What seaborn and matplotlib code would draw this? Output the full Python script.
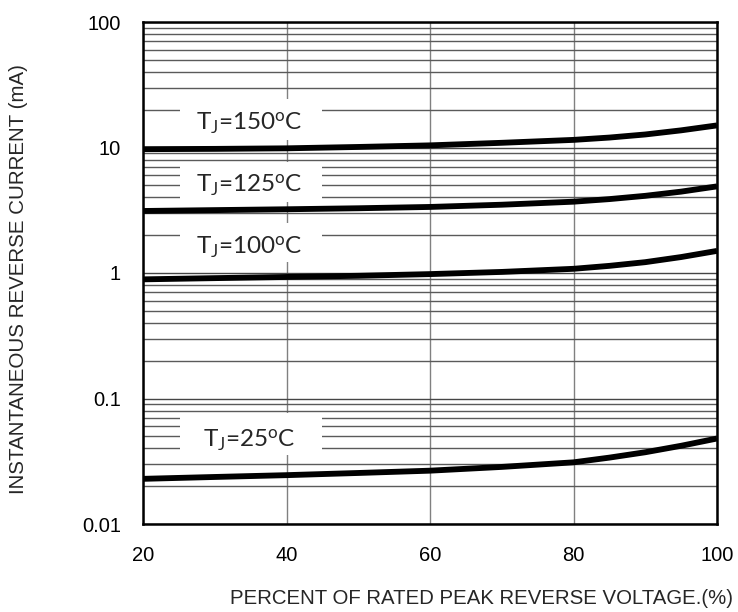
import numpy as np
import pandas as pd
import matplotlib
matplotlib.use("Agg")
import matplotlib.pyplot as plt
import seaborn as sns
from matplotlib.patches import Rectangle
from matplotlib.ticker import FixedLocator, NullFormatter, LogLocator

# ---- data ----
voltage_pct = [20, 30, 40, 50, 60, 70, 80, 85, 90, 95, 100]
i_150 = [9.7, 9.75, 9.85, 10.1, 10.4, 10.9, 11.5, 12.0, 12.7, 13.7, 15.0]
i_125 = [3.12, 3.17, 3.22, 3.28, 3.36, 3.5, 3.7, 3.88, 4.12, 4.45, 4.9]
i_100 = [0.89, 0.91, 0.93, 0.95, 0.98, 1.02, 1.08, 1.14, 1.22, 1.34, 1.5]
i_25 = [0.0229, 0.0237, 0.0245, 0.0255, 0.0266, 0.0285, 0.031, 0.0338, 0.0373, 0.042, 0.048]
series_names = ["150", "125", "100", "25"]
series_labels = [r"T$_\mathregular{J}$=150$^\mathregular{o}$C",
                 r"T$_\mathregular{J}$=125$^\mathregular{o}$C",
                 r"T$_\mathregular{J}$=100$^\mathregular{o}$C",
                 r"T$_\mathregular{J}$=25$^\mathregular{o}$C"]
x_ticks = [20, 40, 60, 80, 100]
y_ticks = [0.01, 0.1, 1, 10, 100]
y_tick_labels = ["0.01", "0.1", "1", "10", "100"]
x_label = "PERCENT OF RATED PEAK REVERSE VOLTAGE.(%)"
y_label = "INSTANTANEOUS REVERSE CURRENT (mA)"

df = pd.concat([
    pd.DataFrame({"v": voltage_pct, "i": vals, "s": name})
    for name, vals in zip(series_names, [i_150, i_125, i_100, i_25])
])

sns.set_style("white")
plt.rcParams["font.family"] = ["Liberation Sans", "DejaVu Sans"]
plt.rcParams["mathtext.default"] = "regular"

W, H = 738, 612
fig = plt.figure(figsize=(W / 100, H / 100), dpi=100)
L, R, T, B = 143, 717, 22, 524
ax = fig.add_axes([L / W, 1 - B / H, (R - L) / W, (B - T) / H])

sns.lineplot(data=df, x="v", y="i", hue="s", palette=["black"] * 4,
             linewidth=4.2, legend=False, ax=ax, zorder=3, sort=True)
for ln in ax.get_lines():
    ln.set_solid_capstyle("butt")
    ln.set_solid_joinstyle("round")

ax.set_yscale("log")
ax.set_xlim(20, 100)
ax.set_ylim(0.01, 100)

ax.xaxis.set_major_locator(FixedLocator(x_ticks))
ax.yaxis.set_major_locator(FixedLocator(y_ticks))
ax.set_yticklabels(y_tick_labels)
ax.yaxis.set_minor_locator(LogLocator(base=10, subs=np.arange(2, 10)))
ax.yaxis.set_minor_formatter(NullFormatter())
ax.tick_params(axis="both", which="both", length=0, labelsize=14.5, colors="black")
ax.tick_params(axis="y", pad=16)
ax.tick_params(axis="x", pad=16)

ax.set_axisbelow(True)
ax.grid(True, axis="y", which="major", color="#454545", linewidth=1.0, zorder=0.5)
ax.grid(True, axis="y", which="minor", color="#5a5a5a", linewidth=1.0, zorder=0.5)
ax.grid(True, axis="x", which="major", color="#808080", linewidth=1.0, zorder=0.5)

for sp in ax.spines.values():
    sp.set_linewidth(1.8)
    sp.set_color("black")
    sp.set_zorder(5)

ax.set_xlabel("")
ax.set_ylabel("")

# label boxes (axes fraction) and text positions
box_x0, box_w = 0.064, 0.248
boxes = [(0.765, 0.082), (0.641, 0.080), (0.522, 0.078), (0.137, 0.084)]
text_y = [0.799, 0.675, 0.552, 0.167]
for (by, bh), ty, lab in zip(boxes, text_y, series_labels):
    ax.add_patch(Rectangle((box_x0, by), box_w, bh, transform=ax.transAxes,
                           facecolor="white", edgecolor="none", zorder=2))
    ax.text(0.185, ty, lab, transform=ax.transAxes, ha="center", va="center",
            fontsize=17.5, family=["Lato", "DejaVu Sans"], zorder=4)

fig.text(733 / W, 1 - 598 / H, x_label, ha="right", va="center", fontsize=14.7)
fig.text(19 / W, 1 - 279 / H, y_label, ha="center", va="center", rotation=90,
         fontsize=14.8)

fig.savefig("out.png", dpi=100, facecolor="white")
